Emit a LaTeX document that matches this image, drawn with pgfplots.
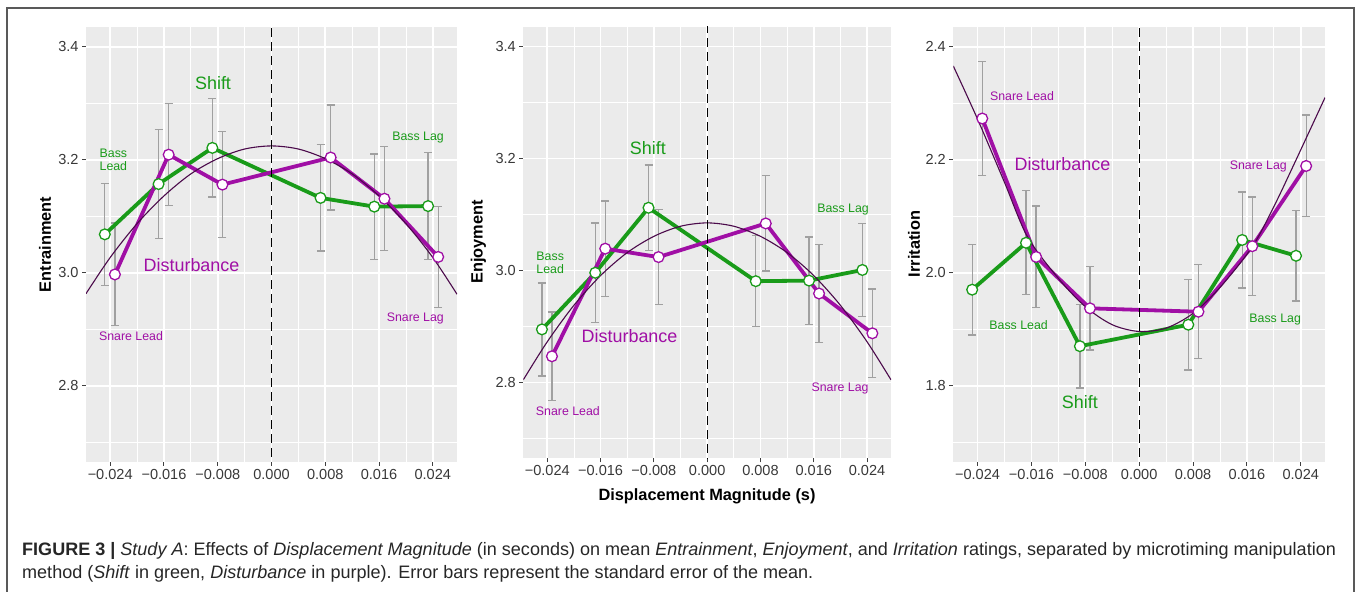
\documentclass[border=0pt]{standalone}
\usepackage{fontspec}
\setmainfont{Liberation Sans}
\usepackage{pgfplots}
\pgfplotsset{compat=1.18}
\definecolor{sgreen}{RGB}{25,155,25}
\definecolor{dpurple}{RGB}{160,15,165}
\definecolor{fitc}{RGB}{75,10,75}
\definecolor{ebar}{RGB}{160,160,160}
\definecolor{panelbg}{RGB}{235,235,235}
\pgfplotsset{
  panel/.style={
    scale only axis,
    xmin=-0.0276, xmax=0.0276,
    scaled x ticks=false, scaled y ticks=false,
    axis line style={draw=none},
    axis background/.style={fill=panelbg},
    xtick={-0.024,-0.016,-0.008,0,0.008,0.016,0.024},
    xticklabels={−0.024,−0.016,−0.008,0.000,0.008,0.016,0.024},
    minor xtick={-0.020,-0.012,-0.004,0.004,0.012,0.020},
    grid=both,
    major grid style={white, line width=1.6bp},
    minor grid style={white, line width=0.8bp},
    tick pos=left, tick align=outside,
    major tick length=4bp, minor tick length=0bp,
    tick style={black!75, line width=1bp},
    ticklabel style={font=\fontsize{14.6}{14.6}\selectfont, text=black!78},
    clip=true,
  },
  gline/.style={sgreen, line width=3.8bp},
  pline/.style={dpurple, line width=3.8bp},
  gmark/.style={only marks, mark=*, mark size=5.4bp, mark options={fill=white, draw=sgreen, line width=1.3bp}},
  pmark/.style={only marks, mark=*, mark size=5.4bp, mark options={fill=white, draw=dpurple, line width=1.3bp}},
  ebars/.style={ebar, line width=1.3bp, only marks, mark=none,
    error bars/.cd, y dir=both, y explicit,
    error bar style={ebar, line width=1.3bp},
    error mark options={rotate=90, ebar, mark size=4bp, line width=1.3bp}},
  fit/.style={fitc, line width=1.1bp, smooth},
  zero/.style={black, line width=1.3bp, dash pattern=on 9bp off 5bp},
}
\newcommand{\annsmall}{\fontsize{12.4}{13.5}\selectfont}
\newcommand{\annbig}{\fontsize{18}{18}\selectfont}
\begin{document}
\begin{tikzpicture}
\useasboundingbox (0bp,0bp) rectangle (1357bp,592bp);
\draw[black!65, line width=1.2bp] (7bp,-2bp) -- (7bp,584bp) -- (1354bp,584bp) -- (1354bp,-2bp);

% ---------- Panel 1: Entrainment
\begin{axis}[panel, at={(86bp,130bp)}, anchor=south west, width=371bp, height=435bp,
  ymin=2.665, ymax=3.435,
  ytick={2.8,3.0,3.2,3.4}, yticklabels={2.8,3.0,3.2,3.4},
  minor ytick={2.7,2.9,3.1,3.3}]
\addplot[ebars] coordinates {(-0.0248,3.068) +- (0,0.090) (-0.0168,3.157) +- (0,0.096) (-0.0088,3.221) +- (0,0.087) (0.0073,3.1325) +- (0,0.094) (0.0153,3.117) +- (0,0.093) (0.0233,3.118) +- (0,0.095)};
\addplot[ebars] coordinates {(-0.0233,2.997) +- (0,0.091) (-0.0153,3.209) +- (0,0.090) (-0.0073,3.156) +- (0,0.094) (0.0088,3.204) +- (0,0.093) (0.0168,3.131) +- (0,0.092) (0.0248,3.028) +- (0,0.089)};
\addplot[gline] coordinates {(-0.0248,3.068) (-0.0168,3.157) (-0.0088,3.221) (0.0073,3.1325) (0.0153,3.117) (0.0233,3.118)};
\addplot[pline] coordinates {(-0.0233,2.997) (-0.0153,3.209) (-0.0073,3.156) (0.0088,3.204) (0.0168,3.131) (0.0248,3.028)};
\addplot[fit] coordinates {(-0.0276,2.963) (-0.024,3.027) (-0.020,3.087) (-0.016,3.136) (-0.012,3.175) (-0.008,3.202) (-0.004,3.219) (0,3.2245) (0.004,3.219) (0.008,3.202) (0.012,3.175) (0.016,3.136) (0.020,3.087) (0.024,3.027) (0.0276,2.962)};
\addplot[zero] coordinates {(0,2.6) (0,3.5)};
\addplot[gmark] coordinates {(-0.0248,3.068) (-0.0168,3.157) (-0.0088,3.221) (0.0073,3.1325) (0.0153,3.117) (0.0233,3.118)};
\addplot[pmark] coordinates {(-0.0233,2.997) (-0.0153,3.209) (-0.0073,3.156) (0.0088,3.204) (0.0168,3.131) (0.0248,3.028)};
\node[text=sgreen, font=\annbig, inner sep=0] at (axis cs:-0.0087,3.335) {Shift};
\node[text=sgreen, font=\annsmall, inner sep=0, align=left, anchor=west] at (axis cs:-0.0256,3.2) {Bass\\Lead};
\node[text=sgreen, font=\annsmall, inner sep=0] at (axis cs:0.0218,3.2385) {Bass Lag};
\node[text=dpurple, font=\annbig, inner sep=0] at (axis cs:-0.0119,3.0136) {Disturbance};
\node[text=dpurple, font=\annsmall, inner sep=0] at (axis cs:-0.0209,2.887) {Snare Lead};
\node[text=dpurple, font=\annsmall, inner sep=0] at (axis cs:0.0214,2.919) {Snare Lag};
\end{axis}

% ---------- Panel 2: Enjoyment
\begin{axis}[panel, at={(523.3bp,133.7bp)}, anchor=south west, width=367.7bp, height=431.6bp,
  ymin=2.665, ymax=3.435,
  ytick={2.8,3.0,3.2,3.4}, yticklabels={2.8,3.0,3.2,3.4},
  minor ytick={2.7,2.9,3.1,3.3}]
\addplot[ebars] coordinates {(-0.0248,2.895) +- (0,0.083) (-0.0168,2.996) +- (0,0.089) (-0.0088,3.112) +- (0,0.076) (0.0073,2.981) +- (0,0.081) (0.0153,2.982) +- (0,0.078) (0.0233,3.001) +- (0,0.083)};
\addplot[ebars] coordinates {(-0.0233,2.847) +- (0,0.079) (-0.0153,3.039) +- (0,0.085) (-0.0073,3.024) +- (0,0.085) (0.0088,3.084) +- (0,0.085) (0.0168,2.959) +- (0,0.087) (0.0248,2.888) +- (0,0.079)};
\addplot[gline] coordinates {(-0.0248,2.895) (-0.0168,2.996) (-0.0088,3.112) (0.0073,2.981) (0.0153,2.982) (0.0233,3.001)};
\addplot[pline] coordinates {(-0.0233,2.847) (-0.0153,3.039) (-0.0073,3.024) (0.0088,3.084) (0.0168,2.959) (0.0248,2.888)};
\addplot[fit] coordinates {(-0.0276,2.805) (-0.024,2.873) (-0.020,2.938) (-0.016,2.991) (-0.012,3.032) (-0.008,3.061) (-0.004,3.079) (0,3.085) (0.004,3.079) (0.008,3.061) (0.012,3.032) (0.016,2.991) (0.020,2.938) (0.024,2.873) (0.0276,2.805)};
\addplot[zero] coordinates {(0,2.6) (0,3.5)};
\addplot[gmark] coordinates {(-0.0248,2.895) (-0.0168,2.996) (-0.0088,3.112) (0.0073,2.981) (0.0153,2.982) (0.0233,3.001)};
\addplot[pmark] coordinates {(-0.0233,2.847) (-0.0153,3.039) (-0.0073,3.024) (0.0088,3.084) (0.0168,2.959) (0.0248,2.888)};
\node[text=sgreen, font=\annbig, inner sep=0] at (axis cs:-0.0089,3.2186) {Shift};
\node[text=sgreen, font=\annsmall, inner sep=0, align=left, anchor=west] at (axis cs:-0.02565,3.014) {Bass\\Lead};
\node[text=sgreen, font=\annsmall, inner sep=0] at (axis cs:0.0204,3.108) {Bass Lag};
\node[text=dpurple, font=\annbig, inner sep=0] at (axis cs:-0.01165,2.883) {Disturbance};
\node[text=dpurple, font=\annsmall, inner sep=0] at (axis cs:-0.0209,2.7495) {Snare Lead};
\node[text=dpurple, font=\annsmall, inner sep=0] at (axis cs:0.01995,2.79) {Snare Lag};
\end{axis}

% ---------- Panel 3: Irritation
\begin{axis}[panel, at={(953.3bp,130bp)}, anchor=south west, width=371.7bp, height=435bp,
  ymin=1.665, ymax=2.435,
  ytick={1.8,2.0,2.2,2.4}, yticklabels={1.8,2.0,2.2,2.4},
  minor ytick={1.7,1.9,2.1,2.3}]
\addplot[ebars] coordinates {(-0.0248,1.970) +- (0,0.080) (-0.0168,2.053) +- (0,0.092) (-0.0088,1.870) +- (0,0.074) (0.0073,1.908) +- (0,0.080) (0.0153,2.058) +- (0,0.085) (0.0233,2.030) +- (0,0.080)};
\addplot[ebars] coordinates {(-0.0233,2.273) +- (0,0.101) (-0.0153,2.028) +- (0,0.090) (-0.0073,1.937) +- (0,0.074) (0.0088,1.931) +- (0,0.083) (0.0168,2.047) +- (0,0.087) (0.0248,2.189) +- (0,0.090)};
\addplot[gline] coordinates {(-0.0248,1.970) (-0.0168,2.053) (-0.0088,1.870) (0.0073,1.908) (0.0153,2.058) (0.0233,2.030)};
\addplot[pline] coordinates {(-0.0233,2.273) (-0.0153,2.028) (-0.0073,1.937) (0.0088,1.931) (0.0168,2.047) (0.0248,2.189)};
\addplot[fit] coordinates {(-0.0276,2.366) (-0.024,2.272) (-0.020,2.160) (-0.0166,2.064) (-0.012,1.990) (-0.008,1.940) (-0.004,1.908) (0,1.896) (0.004,1.902) (0.008,1.928) (0.012,1.974) (0.0168,2.046) (0.020,2.117) (0.0228,2.187) (0.0276,2.310)};
\addplot[zero] coordinates {(0,1.6) (0,2.5)};
\addplot[gmark] coordinates {(-0.0248,1.970) (-0.0168,2.053) (-0.0088,1.870) (0.0073,1.908) (0.0153,2.058) (0.0233,2.030)};
\addplot[pmark] coordinates {(-0.0233,2.273) (-0.0153,2.028) (-0.0073,1.937) (0.0088,1.931) (0.0168,2.047) (0.0248,2.189)};
\node[text=dpurple, font=\annsmall, inner sep=0] at (axis cs:-0.0174,2.3127) {Snare Lead};
\node[text=dpurple, font=\annbig, inner sep=0] at (axis cs:-0.0114,2.193) {Disturbance};
\node[text=dpurple, font=\annsmall, inner sep=0] at (axis cs:0.0177,2.189) {Snare Lag};
\node[text=sgreen, font=\annsmall, inner sep=0] at (axis cs:-0.0179,1.9076) {Bass Lead};
\node[text=sgreen, font=\annsmall, inner sep=0] at (axis cs:0.0202,1.918) {Bass Lag};
\node[text=sgreen, font=\annbig, inner sep=0] at (axis cs:-0.0088,1.771) {Shift};
\end{axis}

% axis titles
\node[rotate=90, font=\fontsize{16.4}{16.4}\selectfont\bfseries, inner sep=0] at (45bp,347.5bp) {Entrainment};
\node[rotate=90, font=\fontsize{16.4}{16.4}\selectfont\bfseries, inner sep=0] at (478.3bp,350bp) {Enjoyment};
\node[rotate=90, font=\fontsize{16.4}{16.4}\selectfont\bfseries, inner sep=0] at (914bp,348bp) {Irritation};
\node[font=\fontsize{16.4}{16.4}\selectfont\bfseries, inner sep=0] at (707bp,95.3bp) {Displacement Magnitude (s)};

% caption
\node[anchor=base west, inner sep=0, text=black!85, font=\fontsize{18.1}{23}\selectfont] at (22bp,36.5bp) {\textbf{FIGURE 3 |} \textit{Study A}: Effects of \textit{Displacement Magnitude} (in seconds) on mean \textit{Entrainment}, \textit{Enjoyment}, and \textit{Irritation} ratings, separated by microtiming manipulation};
\node[anchor=base west, inner sep=0, text=black!85, font=\fontsize{18.1}{23}\selectfont] at (22bp,13.5bp) {method (\textit{Shift} in green, \textit{Disturbance} in purple). Error bars represent the standard error of the mean.};
\end{tikzpicture}
\end{document}
